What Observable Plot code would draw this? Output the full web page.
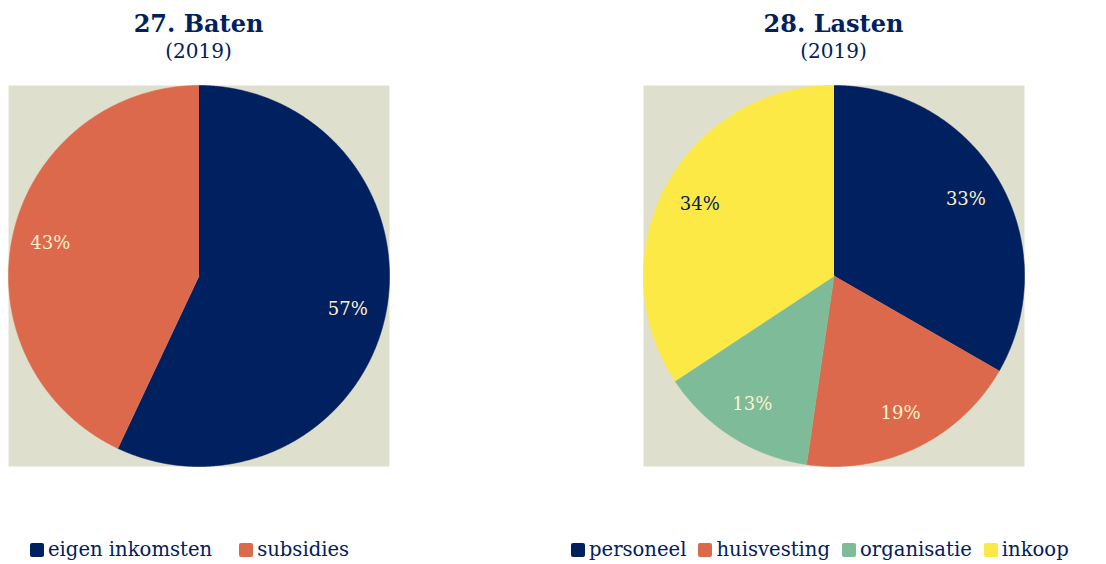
<!DOCTYPE html>
<html><head><meta charset="utf-8">
<script src="https://cdn.jsdelivr.net/npm/d3@7"></script>
<script src="https://cdn.jsdelivr.net/npm/@observablehq/plot@0.6"></script>
<style>
body{margin:0;background:#fff;font-family:"DejaVu Serif",serif;color:#002060;}
#wrap{position:relative;width:1106px;height:564px;overflow:hidden;}
.title{position:absolute;width:400px;text-align:center;line-height:1;}
.t1{font-weight:bold;font-size:24px;top:12px;}
.t2{font-size:20px;top:41px;}
#chart{position:absolute;left:0;top:75px;}
.legend{position:absolute;top:540px;display:flex;align-items:center;font-size:19.6px;line-height:1;white-space:nowrap;}
.item{display:flex;align-items:center;}
.sw{width:14px;height:14px;border-radius:2px;margin-right:4px;}
</style>
</head><body>
<div id="wrap"></div>
<script>
// ---- data ----
const pieTitles = ["27. Baten", "28. Lasten"];
const pieYears = ["(2019)", "(2019)"];
const batenCategories = ["eigen inkomsten", "subsidies"];
const batenValues = [57, 43];
const lastenCategories = ["personeel", "huisvesting", "organisatie", "inkoop"];
const lastenValues = [33.3, 19.0, 13.4, 34.3];

// ---- styles ----
const batenColors = ["#00205f", "#dc694c"];
const lastenColors = ["#00205f", "#dc694c", "#7dbb99", "#fde946"];
const batenLabelColors = ["#fff2cc", "#fff2cc"];
const lastenLabelColors = ["#fff2cc", "#fff2cc", "#fff2cc", "#00205f"];
const navy = "#002060";
const bg = "#dfdfcd";

const pies = [
  {title: pieTitles[0], cats: batenCategories, vals: batenValues, colors: batenColors, lc: batenLabelColors},
  {title: pieTitles[1], cats: lastenCategories, vals: lastenValues, colors: lastenColors, lc: lastenLabelColors}
];

const slicePts = [];
const labels = [];
pies.forEach(p => {
  const arcs = d3.pie().sort(null).value(d => d)(p.vals);
  const total = d3.sum(p.vals);
  arcs.forEach((a, i) => {
    const key = p.title + "|" + p.cats[i];
    slicePts.push({pie: p.title, key, cat: p.cats[i], x: 0, y: 0});
    const n = Math.max(2, Math.ceil((a.endAngle - a.startAngle) / 0.005));
    for (let k = 0; k <= n; k++) {
      const t = a.startAngle + (a.endAngle - a.startAngle) * k / n;
      slicePts.push({pie: p.title, key, cat: p.cats[i], x: Math.sin(t), y: Math.cos(t)});
    }
    const m = (a.startAngle + a.endAngle) / 2;
    labels.push({pie: p.title, x: 0.8 * Math.sin(m), y: 0.8 * Math.cos(m),
      text: Math.round(100 * a.value / total) + "%", color: p.lc[i]});
  });
});

const allCats = [...batenCategories, ...lastenCategories];
const allColors = [...batenColors, ...lastenColors];

const wrap = d3.select("#wrap");

const chart = Plot.plot({
  width: 1106, height: 401,
  marginLeft: 8, marginRight: 82, marginTop: 10, marginBottom: 10,
  style: {fontFamily: "DejaVu Serif, serif", background: "transparent"},
  fx: {domain: pieTitles, paddingInner: 0.4, paddingOuter: 0, axis: null},
  x: {domain: [-1, 1], axis: null},
  y: {domain: [-1, 1], axis: null},
  color: {domain: allCats, range: allColors},
  marks: [
    Plot.frame({fill: bg, stroke: null}),
    Plot.line(slicePts, {x: "x", y: "y", z: "key", fx: "pie", fill: "cat", stroke: "cat", strokeWidth: 0.6}),
    Plot.text(labels, {x: "x", y: "y", fx: "pie", text: "text", fill: "color", fontSize: 18})
  ]
});
chart.id = "chart";
wrap.node().appendChild(chart);

// titles
const centers = [198.5, 833.5];
pies.forEach((p, i) => {
  wrap.append("div").attr("class", "title t1").style("left", (centers[i] - 200) + "px").style("color", navy).text(pieTitles[i]);
  wrap.append("div").attr("class", "title t2").style("left", (centers[i] - 200) + "px").style("color", navy).text(pieYears[i]);
});

// legends
const legendDefs = [
  {cats: batenCategories, colors: batenColors, left: 30, gap: 27},
  {cats: lastenCategories, colors: lastenColors, left: 571, gap: 12}
];
legendDefs.forEach(L => {
  const lg = wrap.append("div").attr("class", "legend").style("left", L.left + "px").style("color", navy);
  L.cats.forEach((c, i) => {
    const it = lg.append("div").attr("class", "item").style("margin-right", L.gap + "px");
    it.append("div").attr("class", "sw").style("background", L.colors[i]);
    it.append("span").text(c);
  });
});
</script>
</body></html>
